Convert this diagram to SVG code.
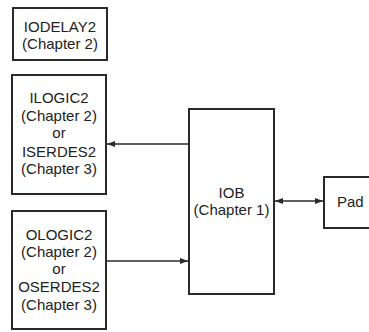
<svg xmlns="http://www.w3.org/2000/svg" width="369" height="332" viewBox="0 0 369 332">
<style>
.box{fill:#fff;stroke:#2a2a2a;stroke-width:2}
.t{font-family:"Liberation Sans",Arial,sans-serif;font-size:15px;fill:#222;text-anchor:middle}
.ln{stroke:#2a2a2a;stroke-width:1.5;fill:none}
</style>
<defs>
<marker id="ah" viewBox="0 0 8 6" refX="8" refY="3" markerWidth="8" markerHeight="6" markerUnits="userSpaceOnUse" orient="auto-start-reverse">
<path d="M0,0 L8,3 L0,6 Z" fill="#2a2a2a"/>
</marker>
</defs>
<rect width="369" height="332" fill="#fff"/>
<g id="iodelay2">
<rect class="box" x="13" y="8" width="94" height="52"/>
<text class="t" x="60" y="32">IODELAY2</text>
<text class="t" x="60" y="49">(Chapter 2)</text>
</g>
<g id="ilogic2">
<rect class="box" x="12" y="75" width="94" height="119"/>
<text class="t" x="59" y="103">ILOGIC2</text>
<text class="t" x="59" y="121">(Chapter 2)</text>
<text class="t" x="59" y="138">or</text>
<text class="t" x="59" y="157">ISERDES2</text>
<text class="t" x="59" y="174">(Chapter 3)</text>
</g>
<g id="ologic2">
<rect class="box" x="12" y="211" width="94" height="118"/>
<text class="t" x="59" y="240">OLOGIC2</text>
<text class="t" x="59" y="257">(Chapter 2)</text>
<text class="t" x="59" y="274">or</text>
<text class="t" x="59" y="292">OSERDES2</text>
<text class="t" x="59" y="310">(Chapter 3)</text>
</g>
<g id="iob">
<rect class="box" x="189" y="109" width="85" height="185"/>
<text class="t" x="231.5" y="198">IOB</text>
<text class="t" x="231.5" y="215">(Chapter 1)</text>
</g>
<g id="pad">
<rect class="box" x="324" y="177" width="60" height="51"/>
<text class="t" x="337" y="207" style="text-anchor:start">Pad</text>
</g>
<g id="connectors">
<line class="ln" x1="189" y1="144" x2="107" y2="144" marker-end="url(#ah)"/>
<line class="ln" x1="107" y1="261" x2="188" y2="261" marker-end="url(#ah)"/>
<line class="ln" x1="275" y1="201" x2="323" y2="201" marker-start="url(#ah)" marker-end="url(#ah)"/>
</g>
</svg>
